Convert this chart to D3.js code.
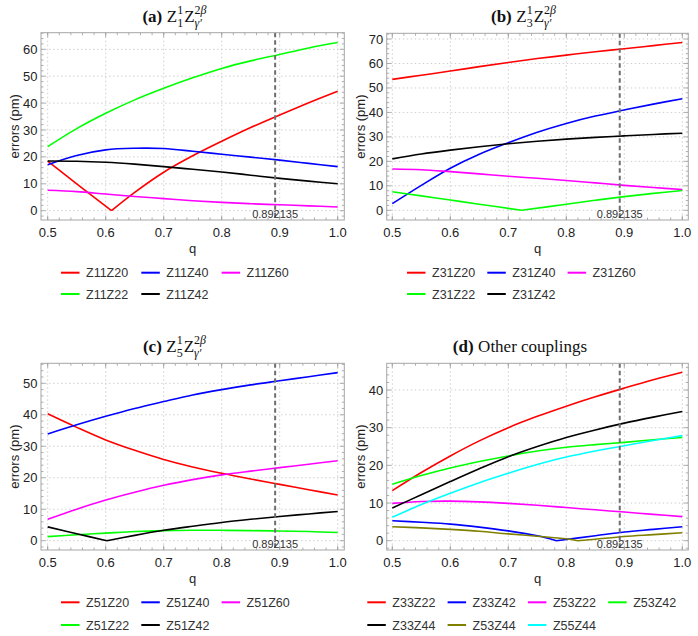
<!DOCTYPE html>
<html lang="en">
<head>
<meta charset="UTF-8">
<title>Coupling errors vs q</title>
<script src="https://cdn.jsdelivr.net/npm/d3@7/dist/d3.min.js"></script>
<style>
    body{ margin:0; background:#fff; }
    svg text{ font-family:Arial, "Liberation Sans", sans-serif; fill:#222; }
    .tick-label{ font-size:13px; }
    .axis-title{ font-size:13px; }
    .legend text{ font-size:12.5px; fill:#333; }
    .ptitle{ font-family:"Liberation Serif", "Times New Roman", serif !important; font-size:17px; fill:#111 !important; }
    .pscript{ font-family:"Liberation Serif", "Times New Roman", serif !important; font-size:12px; fill:#111 !important; }
    .mark-label{ font-size:11px; fill:#333; }
</style>
</head>
<body>
<svg id="main" width="698" height="636" viewBox="0 0 698 636"></svg>
<script>
    // common q grid
    const qGrid = [0.5,0.55,0.6,0.65,0.7,0.75,0.8,0.85,0.9,0.95,1.0];
    const qMark = 0.892135;

    // (a) Z1^1 couplings
    const qZ11Z20 = [0.5,0.55,0.61,0.65,0.7,0.75,0.8,0.85,0.9,0.95,1.0];
    const Z11Z20 = [18.4,10.0,0,6.8,14.3,20.4,25.8,30.9,35.6,40.1,44.4];
    const Z11Z40 = [17.1,20.5,22.6,23.2,23.1,22.1,21.0,19.9,18.8,17.6,16.4];
    const Z11Z60 = [7.6,7.1,6.2,5.3,4.5,3.7,3.1,2.6,2.2,1.8,1.4];
    const Z11Z22 = [23.8,30.5,36.2,41.2,45.5,49.4,52.9,55.7,58.1,60.5,62.5];
    const Z11Z42 = [18.5,18.4,18.0,17.3,16.4,15.4,14.4,13.2,12.0,11.0,10.0];

    // (b) Z3^1 couplings
    const Z31Z20 = [53.5,55.2,56.9,58.7,60.4,62.0,63.4,64.8,66.0,67.3,68.6];
    const Z31Z40 = [2.7,10.2,17.2,22.9,27.6,31.9,35.5,38.5,41.0,43.4,45.6];
    const Z31Z60 = [16.9,16.6,15.8,14.9,13.9,13.1,12.2,11.2,10.2,9.3,8.5];
    const qZ31Z22 = [0.5,0.55,0.6,0.65,0.723,0.8,0.85,0.9,0.95,1.0];
    const Z31Z22 = [7.6,5.9,4.2,2.5,0,2.5,4.1,5.6,6.9,8.1];
    const Z31Z42 = [21.0,23.0,24.6,26.0,27.2,28.2,29.1,29.8,30.4,31.0,31.5];

    // (c) Z5^1 couplings
    const Z51Z20 = [40.3,36.0,32.0,28.7,25.8,23.4,21.4,19.6,17.9,16.2,14.5];
    const Z51Z40 = [33.9,36.8,39.5,42.0,44.2,46.3,48.0,49.5,50.8,52.1,53.4];
    const Z51Z60 = [6.8,10.0,12.9,15.4,17.6,19.4,20.9,22.1,23.2,24.3,25.4];
    const Z51Z22 = [1.3,1.9,2.4,2.9,3.2,3.3,3.3,3.2,3.1,2.9,2.6];
    const qZ51Z42 = [0.5,0.55,0.602,0.65,0.7,0.75,0.8,0.85,0.9,0.95,1.0];
    const Z51Z42 = [4.4,2.2,0,1.7,3.3,4.6,5.8,6.8,7.7,8.5,9.3];

    // (d) other couplings
    const Z33Z22 = [13.3,18.1,22.5,26.5,30.0,33.0,35.7,38.2,40.5,42.7,44.7];
    const qZ33Z42 = [0.5,0.55,0.6,0.65,0.7,0.75,0.783,0.85,0.9,0.95,1.0];
    const Z33Z42 = [5.3,4.9,4.4,3.6,2.6,1.3,0,1.3,2.3,3.0,3.7];
    const Z53Z22 = [9.9,10.4,10.5,10.3,9.9,9.4,8.8,8.2,7.6,7.0,6.4];
    const Z53Z42 = [15.0,17.3,19.3,21.0,22.5,23.8,24.8,25.5,26.1,26.8,27.4];
    const Z33Z44 = [8.7,12.2,15.7,19.1,22.3,25.0,27.4,29.4,31.2,32.8,34.3];
    const qZ53Z44 = [0.5,0.55,0.6,0.65,0.7,0.75,0.8,0.82,0.85,0.9,0.95,1.0];
    const Z53Z44 = [3.7,3.4,3.0,2.5,1.8,1.2,0.5,0,0.4,1.1,1.6,2.1];
    const Z55Z44 = [6.2,9.6,12.6,15.4,17.9,20.2,22.2,23.8,25.2,26.6,27.9];

    const xTicks = [0.5,0.6,0.7,0.8,0.9,1.0];

    const scriptTitle = (n)=>[{t:"(" + n[0] + ")",bold:true},{t:"Z"},{sup:"1",sub:n[1]},{t:"Z"},
        {sup:"2<tspan font-style='italic'>β</tspan>",sub:"<tspan font-style='italic'>γ′</tspan>"}];

    const panels = [
        {frame:{l:41,r:344.3,t:32.7,b:220}, xr:[47.7,337.7], yr:[210.7,49.3], yTop:60, cx:175,
         title:scriptTitle("a1"), legX:61, legY:[272.7,294], cols:3,
         series:[
            {name:"Z11Z20",color:"#ff0000",q:qZ11Z20,v:Z11Z20},
            {name:"Z11Z40",color:"#0000ff",q:qGrid,v:Z11Z40},
            {name:"Z11Z60",color:"#ff00ff",q:qGrid,v:Z11Z60},
            {name:"Z11Z22",color:"#00ff00",q:qGrid,v:Z11Z22},
            {name:"Z11Z42",color:"#000000",q:qGrid,v:Z11Z42}]},
        {frame:{l:386.7,r:688.3,t:33.3,b:220}, xr:[392.3,682.3], yr:[210.3,39], yTop:70, cx:524,
         title:scriptTitle("b3"), legX:407, legY:[272.7,294], cols:3,
         series:[
            {name:"Z31Z20",color:"#ff0000",q:qGrid,v:Z31Z20},
            {name:"Z31Z40",color:"#0000ff",q:qGrid,v:Z31Z40},
            {name:"Z31Z60",color:"#ff00ff",q:qGrid,v:Z31Z60},
            {name:"Z31Z22",color:"#00ff00",q:qZ31Z22,v:Z31Z22},
            {name:"Z31Z42",color:"#000000",q:qGrid,v:Z31Z42}]},
        {frame:{l:41,r:344.3,t:363.3,b:550}, xr:[47.7,337.7], yr:[540.7,383.3], yTop:50, cx:175,
         title:scriptTitle("c5"), legX:61, legY:[602.3,625], cols:3,
         series:[
            {name:"Z51Z20",color:"#ff0000",q:qGrid,v:Z51Z20},
            {name:"Z51Z40",color:"#0000ff",q:qGrid,v:Z51Z40},
            {name:"Z51Z60",color:"#ff00ff",q:qGrid,v:Z51Z60},
            {name:"Z51Z22",color:"#00ff00",q:qGrid,v:Z51Z22},
            {name:"Z51Z42",color:"#000000",q:qZ51Z42,v:Z51Z42}]},
        {frame:{l:386.7,r:688.3,t:363.3,b:550}, xr:[392.3,682.3], yr:[540.7,390], yTop:40, cx:520,
         title:[{t:"(d)",bold:true},{t:"Other couplings"}],
         legX:367.3, legY:[602.3,625], cols:4,
         series:[
            {name:"Z33Z22",color:"#ff0000",q:qGrid,v:Z33Z22},
            {name:"Z33Z42",color:"#0000ff",q:qZ33Z42,v:Z33Z42},
            {name:"Z53Z22",color:"#ff00ff",q:qGrid,v:Z53Z22},
            {name:"Z53Z42",color:"#00ff00",q:qGrid,v:Z53Z42},
            {name:"Z33Z44",color:"#000000",q:qGrid,v:Z33Z44},
            {name:"Z53Z44",color:"#808000",q:qZ53Z44,v:Z53Z44},
            {name:"Z55Z44",color:"#00ffff",q:qGrid,v:Z55Z44}]}
    ];

    const svg = d3.select("svg#main");

    function drawTitle(cx, baseline, parts){
        const g = svg.append("g");
        let x = 0;
        parts.forEach(p=>{
            if(p.sup !== undefined){
                const s = g.append("text").attr("class","pscript").attr("x",x).attr("y",baseline-8).html(p.sup);
                const b = g.append("text").attr("class","pscript").attr("x",x).attr("y",baseline+5).html(p.sub);
                x += Math.max(s.node().getComputedTextLength(), b.node().getComputedTextLength()) + 1;
            } else {
                const t = g.append("text").attr("class","ptitle").attr("x",x).attr("y",baseline)
                    .style("font-weight", p.bold ? "bold" : "normal").text(p.t);
                x += t.node().getComputedTextLength();
                if(p.bold) x += 4.5;
            }
        });
        g.attr("transform",`translate(${cx - x/2},0)`);
    }

    panels.forEach(p=>{
        const f = p.frame;
        const xScale = d3.scaleLinear().domain([0.5,1.0]).range(p.xr);
        const yScale = d3.scaleLinear().domain([0,p.yTop]).range(p.yr);
        const g = svg.append("g");

        const xLo = xScale.invert(f.l), xHi = xScale.invert(f.r);
        const yLo = yScale.invert(f.b), yHi = yScale.invert(f.t);
        const yTicks = d3.range(0, Math.floor(yHi/10)*10+0.1, 10);
        const xMinor = d3.range(0.4, 1.1, 0.02).filter(d=>d>xLo && d<xHi);
        const yMinor = d3.range(-10, p.yTop+20, 2).filter(d=>d>yLo && d<yHi && d%10!==0);

        // gridlines
        g.selectAll(".gx").data(xTicks).join("line")
            .attr("x1",d=>xScale(d)).attr("x2",d=>xScale(d)).attr("y1",f.t).attr("y2",f.b)
            .attr("stroke","#cfcfcf").attr("stroke-dasharray","1.5,2.5");
        g.selectAll(".gy").data(yTicks).join("line")
            .attr("y1",d=>yScale(d)).attr("y2",d=>yScale(d)).attr("x1",f.l).attr("x2",f.r)
            .attr("stroke","#cfcfcf").attr("stroke-dasharray","1.5,2.5");

        // frame ticks (all sides, inward)
        const tk = g.append("g").attr("stroke","#9a9a9a").attr("stroke-width",0.8);
        xTicks.forEach(d=>{
            tk.append("line").attr("x1",xScale(d)).attr("x2",xScale(d)).attr("y1",f.b).attr("y2",f.b-4.5);
            tk.append("line").attr("x1",xScale(d)).attr("x2",xScale(d)).attr("y1",f.t).attr("y2",f.t+4.5);
        });
        xMinor.forEach(d=>{
            tk.append("line").attr("x1",xScale(d)).attr("x2",xScale(d)).attr("y1",f.b).attr("y2",f.b-2.5);
            tk.append("line").attr("x1",xScale(d)).attr("x2",xScale(d)).attr("y1",f.t).attr("y2",f.t+2.5);
        });
        yTicks.forEach(d=>{
            tk.append("line").attr("y1",yScale(d)).attr("y2",yScale(d)).attr("x1",f.l).attr("x2",f.l+4.5);
            tk.append("line").attr("y1",yScale(d)).attr("y2",yScale(d)).attr("x1",f.r).attr("x2",f.r-4.5);
        });
        yMinor.forEach(d=>{
            tk.append("line").attr("y1",yScale(d)).attr("y2",yScale(d)).attr("x1",f.l).attr("x2",f.l+2.5);
            tk.append("line").attr("y1",yScale(d)).attr("y2",yScale(d)).attr("x1",f.r).attr("x2",f.r-2.5);
        });

        // series, split where the error touches zero (kink)
        const line = d3.line().x(d=>xScale(d[0])).y(d=>yScale(d[1])).curve(d3.curveCatmullRom);
        p.series.forEach(s=>{
            const pts = s.q.map((q,i)=>[q, s.v[i]]);
            const segs = [];
            let cur = [];
            pts.forEach(pt=>{
                cur.push(pt);
                if(pt[1]===0){ segs.push(cur); cur=[pt]; }
            });
            if(cur.length>1) segs.push(cur);
            g.append("path")
                .attr("d", segs.map(sg=>line(sg)).join(""))
                .attr("fill","none").attr("stroke",s.color).attr("stroke-width",1.6);
        });

        // marker line at q = 0.892135
        g.append("line")
            .attr("x1",xScale(qMark)).attr("x2",xScale(qMark)).attr("y1",f.t).attr("y2",f.b)
            .attr("stroke","#6e6e6e").attr("stroke-width",2).attr("stroke-dasharray","4.5,3");
        g.append("text").attr("class","mark-label")
            .attr("x",xScale(qMark)).attr("y",f.b-2).attr("text-anchor","middle").text(String(qMark));

        // frame
        g.append("rect").attr("x",f.l).attr("y",f.t).attr("width",f.r-f.l).attr("height",f.b-f.t)
            .attr("fill","none").attr("stroke","#a6a6a6").attr("stroke-width",1);

        // tick labels
        g.selectAll(".xl").data(xTicks).join("text").attr("class","tick-label")
            .attr("x",d=>xScale(d)).attr("y",f.b+16.5).attr("text-anchor","middle").text(d3.format(".1f"));
        g.selectAll(".yl").data(yTicks).join("text").attr("class","tick-label")
            .attr("x",f.l-3.5).attr("y",d=>yScale(d)).attr("dy","0.35em").attr("text-anchor","end").text(d=>d);

        // axis titles
        g.append("text").attr("class","axis-title").attr("x",(f.l+f.r)/2).attr("y",f.b+33)
            .attr("text-anchor","middle").text("q");
        g.append("text").attr("class","axis-title")
            .attr("transform",`translate(${f.l-26.5},${(f.t+f.b)/2}) rotate(-90)`)
            .attr("dy","0.35em").attr("text-anchor","middle").text("errors (pm)");

        // title
        drawTitle(p.cx, f.t - 11, p.title);

        // legend
        const leg = g.append("g").attr("class","legend");
        const items = leg.selectAll("g").data(p.series).join("g")
            .attr("transform",(d,i)=>`translate(${p.legX + (i%p.cols)*80.3},${p.legY[Math.floor(i/p.cols)]})`);
        items.append("line").attr("x1",0).attr("x2",18.5).attr("y1",0).attr("y2",0)
            .attr("stroke",d=>d.color).attr("stroke-width",2);
        items.append("text").attr("x",25).attr("dy","0.36em").text(d=>d.name);
    });
</script>
</body>
</html>
